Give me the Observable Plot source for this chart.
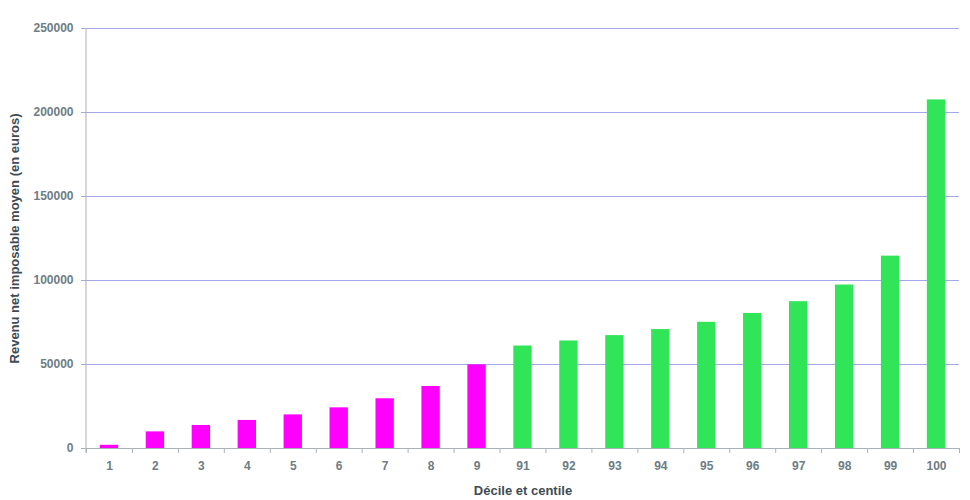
<!DOCTYPE html>
<html>
<head>
<meta charset="utf-8">
<script src="https://cdn.jsdelivr.net/npm/d3@7"></script>
<script src="https://cdn.jsdelivr.net/npm/@observablehq/plot@0.6"></script>
<style>
  html, body { margin: 0; padding: 0; background: #fff; }
  #chart svg { display: block; }
</style>
</head>
<body>
<div id="chart"></div>
<script>
// Déciles 1 à 9, puis centiles 91 à 100
const groups = ["1", "2", "3", "4", "5", "6", "7", "8", "9",
  "91", "92", "93", "94", "95", "96", "97", "98", "99", "100"];
const revenus = [1900, 9900, 13700, 16700, 20000, 24200, 29600, 36900, 49800,
  61000, 64000, 67200, 70800, 75100, 80400, 87400, 97300, 114500, 207500];
const kinds = ["décile", "décile", "décile", "décile", "décile", "décile", "décile", "décile", "décile",
  "centile", "centile", "centile", "centile", "centile", "centile", "centile", "centile", "centile", "centile"];
const yTicks = [0, 50000, 100000, 150000, 200000, 250000];

const data = groups.map((g, i) => ({groupe: g, revenu: revenus[i], type: kinds[i]}));

const W = 970, H = 500;
const mL = 86, mR = 11, mT = 28, mB = 52;
const band = (W - mL - mR) / groups.length;

const font = "'Liberation Sans', Arial, sans-serif";
const tickColor = "#6e7c84";
const titleColor = "#3e4b54";
const lineColor = "#aab2b7";

const chart = Plot.plot({
  width: W,
  height: H,
  marginLeft: mL,
  marginRight: mR,
  marginTop: mT,
  marginBottom: mB,
  style: {fontFamily: font, fontWeight: "bold", fontSize: "12px", color: tickColor, background: "#fff"},
  x: {type: "band", domain: groups, padding: 0.6, paddingOuter: 0.3, align: 0.5, round: false},
  y: {domain: [0, 250000]},
  color: {domain: ["décile", "centile"], range: ["#ff00ff", "#30e658"]},
  marks: [
    // grille horizontale
    Plot.gridY(yTicks.filter(d => d > 0), {stroke: "#a3a8ea", strokeOpacity: 1, strokeWidth: 1}),
    // barres
    Plot.barY(data, {x: "groupe", y: "revenu", fill: "type"}),
    // axe horizontal
    Plot.ruleY([0], {stroke: lineColor, strokeWidth: 1}),
    Plot.axisY(yTicks, {
      tickSize: 5, tickPadding: 8, stroke: lineColor, fill: tickColor,
      tickFormat: d => String(d),
      label: null
    }),
    // graduations placées aux limites des bandes
    Plot.axisX(groups, {tickSize: 5, tickFormat: () => "", dx: -band / 2, stroke: lineColor, label: null}),
    Plot.axisX(groups.slice(-1), {tickSize: 5, tickFormat: () => "", dx: band / 2, stroke: lineColor, label: null}),
    Plot.axisX(groups, {tickSize: 0, tickPadding: 13, fill: tickColor, label: null}),
    // titres des axes
    Plot.text(["Revenu net imposable moyen (en euros)"], {
      frameAnchor: "left", textAnchor: "middle", dx: -72, rotate: -90, fill: titleColor, fontSize: 13
    }),
    Plot.text(["Décile et centile"], {
      frameAnchor: "bottom", dy: 46, fill: titleColor, fontSize: 13
    })
  ]
});

// trait vertical de l'axe des ordonnées, prolongé sous la ligne de base
const svg = d3.select(chart);
svg.append("line")
  .attr("x1", mL).attr("x2", mL)
  .attr("y1", mT).attr("y2", H - mB + 5)
  .attr("stroke", lineColor);

document.getElementById("chart").appendChild(chart);
</script>
</body>
</html>
